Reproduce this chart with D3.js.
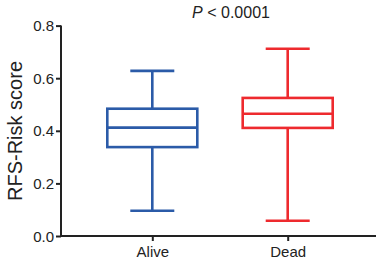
<!DOCTYPE html>
<html><head><meta charset="utf-8">
<script src="https://cdn.jsdelivr.net/npm/d3@7"></script>
<style>body{margin:0;background:#fff}svg{display:block}text{font-family:"Liberation Sans",Arial,sans-serif}</style>
</head><body><svg id="c" width="378" height="260"></svg>
<script>
const categories = ["Alive", "Dead"];
const mins    = [0.096, 0.058];
const q1s     = [0.338, 0.411];
const medians = [0.412, 0.465];
const q3s     = [0.484, 0.525];
const maxs    = [0.628, 0.712];
const colors  = ["#2b5ba8", "#ee2a2e"];
const yTicks  = [0, 0.2, 0.4, 0.6, 0.8];

const svg = d3.select("#c");
const y = d3.scaleLinear().domain([0, 0.8]).range([236, 25.6]);
const x = d3.scalePoint().domain(categories).range([152.3, 287.7]);
const boxW = 90, capW = 44, sw = 2.6;

const yAxis = svg.append("g").attr("transform", "translate(61,0)")
  .call(d3.axisLeft(y).tickValues(yTicks).tickFormat(d3.format(".1f")).tickSize(5).tickSizeOuter(0));
yAxis.select(".domain").attr("stroke", "#222").attr("stroke-width", 2).attr("d", `M0,${y(0.8)}V${y(0)+1}`);
yAxis.selectAll(".tick line").attr("stroke", "#222").attr("stroke-width", 2);
yAxis.selectAll(".tick text").attr("font-size", 15).attr("fill", "#222").attr("x", -7).attr("dy", "0.34em");

const xAxis = svg.append("g").attr("transform", "translate(0,236)")
  .call(d3.axisBottom(x).tickSize(5).tickSizeOuter(0));
xAxis.select(".domain").attr("stroke", "#222").attr("stroke-width", 2).attr("d", "M60,0H376");
xAxis.selectAll(".tick line").attr("stroke", "#222").attr("stroke-width", 2);
xAxis.selectAll(".tick text").attr("font-size", 15).attr("fill", "#222").attr("y", 10).attr("dy", "0.71em");

categories.forEach((c, i) => {
  const g = svg.append("g").attr("stroke", colors[i]).attr("stroke-width", sw).attr("fill", "none");
  const cx = x(c);
  g.append("line").attr("x1", cx).attr("x2", cx).attr("y1", y(maxs[i])).attr("y2", y(q3s[i]));
  g.append("line").attr("x1", cx).attr("x2", cx).attr("y1", y(q1s[i])).attr("y2", y(mins[i]));
  g.append("line").attr("x1", cx - capW/2).attr("x2", cx + capW/2).attr("y1", y(maxs[i])).attr("y2", y(maxs[i]));
  g.append("line").attr("x1", cx - capW/2).attr("x2", cx + capW/2).attr("y1", y(mins[i])).attr("y2", y(mins[i]));
  g.append("rect").attr("x", cx - boxW/2).attr("width", boxW).attr("y", y(q3s[i])).attr("height", y(q1s[i]) - y(q3s[i]));
  g.append("line").attr("x1", cx - boxW/2).attr("x2", cx + boxW/2).attr("y1", y(medians[i])).attr("y2", y(medians[i]));
});

svg.append("text").attr("transform", "translate(22,131) rotate(-90)").attr("text-anchor", "middle")
  .attr("font-size", 20).attr("fill", "#222").text("RFS-Risk score");

const t = svg.append("text").attr("x", 231).attr("y", 18).attr("text-anchor", "middle").attr("font-size", 16).attr("fill", "#222");
t.append("tspan").attr("font-style", "italic").text("P");
t.append("tspan").text(" < 0.0001");
</script></body></html>
